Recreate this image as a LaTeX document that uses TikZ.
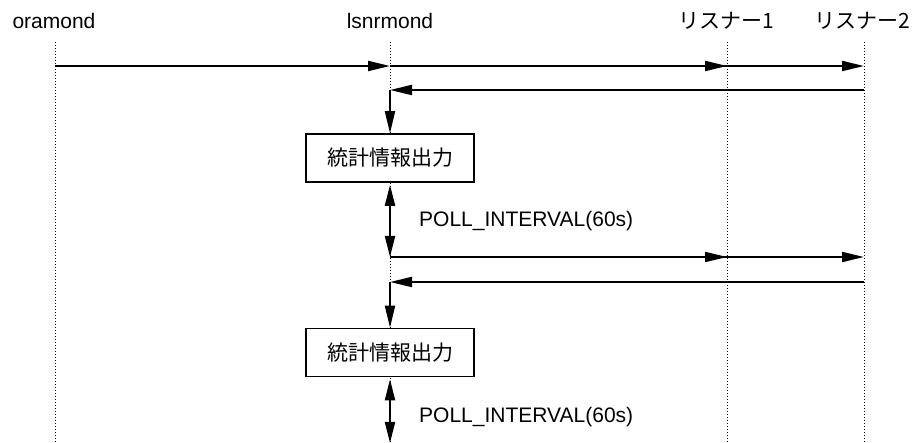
\documentclass[tikz,border=0pt]{standalone}
\usepackage{fontspec}
\setmainfont{Liberation Sans}
\newfontfamily\jp{Noto Sans CJK JP}
\usetikzlibrary{arrows.meta}
\begin{document}
\begin{tikzpicture}[x=1pt,y=-1pt,
  lifeline/.style={line width=1pt,dash pattern=on 1pt off 2pt},
  msg/.style={line width=2pt,-{Triangle[length=22pt,width=10pt]}},
  dbl/.style={line width=2pt,{Triangle[length=21pt,width=10pt]}-{Triangle[length=21pt,width=10pt]}},
  actor/.style={font=\fontsize{21}{25}\selectfont,inner sep=0pt,anchor=center},
  procbox/.style={draw,line width=1.6pt,fill=white,minimum width=168pt,minimum height=48pt,inner sep=0pt,font=\jp\fontsize{21}{25}\selectfont},
  lbl/.style={font=\fontsize{21}{25}\selectfont,inner sep=0pt,anchor=west}]
\useasboundingbox (0,0) rectangle (913,443);
% actor labels
\node[actor] (ora) at (54,21) {oramond};
\node[actor] (lsn) at (390,21) {lsnrmond};
\node[actor] (li1) at (726,21) {\jp リスナー1};
\node[actor] (li2) at (862,21) {\jp リスナー2};
% lifelines
\coordinate (oT) at (55,42); \coordinate (oB) at (55,443);
\coordinate (lT) at (390,42); \coordinate (lB) at (390,443);
\coordinate (aT) at (727,42); \coordinate (aB) at (727,443);
\coordinate (bT) at (864,42); \coordinate (bB) at (864,443);
\draw[lifeline] (oT) -- (oB);
\draw[lifeline] (lT) -- (lB);
\draw[lifeline] (aT) -- (aB);
\draw[lifeline] (bT) -- (bB);
% message points
\coordinate (o1) at (55,66);
\coordinate (l1) at (390,66);
\coordinate (a1) at (727,66);
\coordinate (b1) at (864,66);
\coordinate (b2) at (864,90);
\coordinate (l2) at (390,90);
\coordinate (l3) at (390,257);
\coordinate (a3) at (727,257);
\coordinate (b3) at (864,257);
\coordinate (b4) at (864,282);
\coordinate (l4) at (390,282);
% boxes
\node[procbox] (box1) at (390,158) {統計情報出力};
\node[procbox] (box2) at (390,352.5) {統計情報出力};
% messages
\draw[msg] (o1) -- (l1);
\draw[msg] (l1) -- (a1);
\draw[msg] (l1) -- (b1);
\draw[msg] (b2) -- (l2);
\draw[msg] (l2) -- (box1.north);
\draw[dbl] ([yshift=-2pt]box1.south) -- (l3);
\node[lbl] (p1) at (419,221) {POLL\_INTERVAL(60s)};
\draw[msg] (l3) -- (a3);
\draw[msg] (l3) -- (b3);
\draw[msg] (b4) -- (l4);
\draw[msg] (l4) -- (box2.north);
\draw[dbl] ([yshift=-2pt]box2.south) -- (lB);
\node[lbl] (p2) at (419,417) {POLL\_INTERVAL(60s)};
\end{tikzpicture}
\end{document}
